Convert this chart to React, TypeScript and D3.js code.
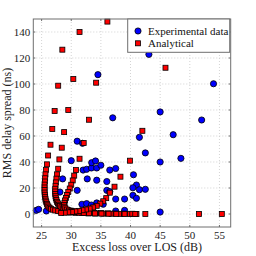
import React from 'react';
import * as d3 from 'd3';

// Experimental data: [excess loss (dB), RMS delay spread (ns)]
const experimental: [number, number][] = [
  [24.1, 2.8], [24.5, 3.6], [25.8, 2.3],
  [28.1, 16.9], [28.55, 27], [30.0, 41], [31.0, 56], [31.9, 54.4], [31.0, 18.2],
  [32.0, 33.8], [32.6, 34.4], [33.4, 35.4], [34.3, 35.4], [33.45, 39.5], [34.1, 40.8],
  [32.7, 27], [34.3, 26], [36.0, 25],
  [31.8, 7.5], [32.6, 8], [33.4, 6.9], [34.3, 8.5], [35.4, 7.5],
  [35.0, 37.5], [36.5, 33.8], [37.5, 35],
  [36.0, 18.2], [36.5, 17.2],
  [37.5, 11.5], [39.0, 11.5],
  [37.5, 2.3], [39.0, 2.8],
  [40.5, 30.2], [41.0, 22.3], [40.4, 20.2], [41.5, 18.7], [42.5, 19], [40.4, 14.4], [41.0, 12.1],
  [45, 40], [42.5, 47], [48.5, 42.8], [41.5, 59], [47.2, 61],
  [45, 78.5], [52, 72.3], [37, 74], [34.5, 107.2], [54, 100.2], [43.1, 122.8],
  [45, 1.5],
];

// Analytical model, four families of points
const analyticalA: [number, number][] = [
  [28.5, 126.4], [27.8, 98.7], [27.2, 79.2], [26.8, 65.4], [26.5, 53.3], [26.1, 45], [25.9, 38.2],
  [25.75, 34], [25.65, 30.5], [25.6, 27.5], [25.55, 25], [25.5, 22.6], [25.5, 20.4], [25.5, 18.4],
  [25.5, 16.5], [25.55, 14.8], [25.6, 13.2], [25.65, 11.7], [25.7, 10.3], [25.8, 9], [25.9, 7.8],
  [26.0, 6.7], [26.15, 5.7], [26.35, 4.8], [26.6, 4], [26.9, 3.3], [27.3, 2.7], [27.8, 2.2],
  [28.4, 1.8], [29.1, 1.4], [29.9, 1.1], [30.8, 0.9], [31.8, 0.7], [32.9, 0.5], [34.1, 0.4],
  [35.4, 0.3], [36.8, 0.2], [38.3, 0.1], [39.9, 0],
];
const analyticalB: [number, number][] = [
  [31.4, 140], [30.35, 103.8], [29.5, 80], [28.8, 63], [28.4, 51], [28.0, 42], [27.8, 34.8],
  [27.6, 30.5], [27.5, 27.2], [27.4, 24.3], [27.35, 21.7], [27.3, 19.4], [27.3, 17.3], [27.3, 15.4],
  [27.35, 13.7], [27.4, 12.1], [27.5, 10.7], [27.6, 9.4], [27.75, 8.2], [27.9, 7.1], [28.1, 6.1],
  [28.35, 5.2], [28.65, 4.4], [29.0, 3.7], [29.4, 3.1], [29.9, 2.6], [30.5, 2.1], [31.2, 1.7],
  [32.0, 1.4], [32.9, 1.1], [33.9, 0.9], [35.0, 0.7], [36.2, 0.5], [37.5, 0.4], [38.9, 0.3], [40.3, 0.2],
];
const analyticalC: [number, number][] = [
  [36.1, 148], [34.2, 101], [33, 72.5], [32.1, 54.6], [31.4, 42.5], [30.8, 33.8], [30.5, 29.5],
  [30.25, 25.8], [30.0, 22.5], [29.75, 19.6], [29.5, 17], [29.3, 14.6], [29.1, 12.4], [28.95, 10.4],
  [28.85, 8.6], [28.8, 7], [28.85, 5.6], [29.0, 4.4], [29.25, 3.4], [29.6, 2.6], [30.05, 2],
  [30.6, 1.5], [31.3, 1.1], [32.1, 0.8], [33.0, 0.6], [34.0, 0.4], [35.1, 0.3], [36.3, 0.2],
  [37.6, 0.1], [39.0, 0.1], [41.0, 0],
];
const analyticalD: [number, number][] = [
  [45.9, 112.5], [42, 64], [39.9, 41], [38.3, 28.7], [37.3, 21], [36.5, 16.4], [35.9, 12.2],
  [35.4, 9.8], [34.9, 8], [34.3, 6.3], [33.7, 5.1], [33.1, 4.2], [32.5, 3.5], [31.9, 2.9],
  [31.3, 2.4], [30.7, 2], [30.1, 1.6], [29.5, 1.3], [28.9, 1], [28.3, 0.8],
  [40.8, 0], [42.5, 0], [51.55, 0], [55.4, 0],
];

const xTicks = [25, 30, 35, 40, 45, 50, 55];
const yTicks = [0, 20, 40, 60, 80, 100, 120, 140];

const FONT = '"Liberation Serif", "Times New Roman", serif';

export default function App() {
  const left = 33.3, right = 230.7, top = 19, bottom = 227;
  const x = d3.scaleLinear().domain([23.6, 56.9]).range([left, right]);
  const y = d3.scaleLinear().domain([-10, 150]).range([bottom, top]);
  const analytical = [...analyticalA, ...analyticalB, ...analyticalC, ...analyticalD];
  const axisColor = '#6e6e6e';
  const gridColor = '#c8c8c8';

  return (
    <svg width={256} height={256} style={{ position: 'fixed', left: 0, top: 0, background: '#fff' }} fontFamily={FONT}>
      <rect x={0} y={0} width={256} height={256} fill="#fff" />
      {/* grid */}
      {xTicks.map(t => (
        <line key={'gx' + t} x1={x(t)} x2={x(t)} y1={top} y2={bottom} stroke={gridColor} strokeWidth={0.8} strokeDasharray="1,2" />
      ))}
      {yTicks.map(t => (
        <line key={'gy' + t} x1={left} x2={right} y1={y(t)} y2={y(t)} stroke={gridColor} strokeWidth={0.8} strokeDasharray="1,2" />
      ))}
      {/* ticks */}
      {xTicks.map(t => (
        <g key={'tx' + t}>
          <line x1={x(t)} x2={x(t)} y1={bottom} y2={bottom - 2} stroke={axisColor} />
          <line x1={x(t)} x2={x(t)} y1={top} y2={top + 2} stroke={axisColor} />
          <text x={x(t)} y={bottom + 11.5} textAnchor="middle" fontSize={11} fill="#222">{t}</text>
        </g>
      ))}
      {yTicks.map(t => (
        <g key={'ty' + t}>
          <line x1={left} x2={left + 2} y1={y(t)} y2={y(t)} stroke={axisColor} />
          <line x1={right} x2={right - 2} y1={y(t)} y2={y(t)} stroke={axisColor} />
          <text x={left - 3} y={y(t) + 3.8} textAnchor="end" fontSize={11} fill="#222">{t}</text>
        </g>
      ))}
      {/* data */}
      {experimental.map((d, i) => (
        <circle key={'e' + i} cx={x(d[0])} cy={y(d[1])} r={3.1} fill="#0000ff" stroke="#000" strokeWidth={0.8} />
      ))}
      {analytical.map((d, i) => (
        <rect key={'a' + i} x={x(d[0]) - 2.5} y={y(d[1]) - 2.5} width={5} height={5} fill="#ff0000" stroke="#000" strokeWidth={0.8} />
      ))}
      {/* frame */}
      <rect x={left} y={top} width={right - left} height={bottom - top} fill="none" stroke={axisColor} strokeWidth={1} />
      {/* legend */}
      <g>
        <rect x={127.7} y={top} width={102} height={33.3} fill="#fff" stroke={axisColor} strokeWidth={1} />
        <circle cx={138} cy={31} r={3.1} fill="#0000ff" stroke="#000" strokeWidth={0.8} />
        <text x={148} y={35} fontSize={11} fill="#111">Experimental data</text>
        <rect x={138 - 2.5} y={43.3 - 2.5} width={5} height={5} fill="#ff0000" stroke="#000" strokeWidth={0.8} />
        <text x={148} y={47.3} fontSize={11} fill="#111">Analytical</text>
      </g>
      {/* labels */}
      <text x={(left + right) / 2 + 5} y={251} textAnchor="middle" fontSize={12} fill="#222">Excess loss over LOS (dB)</text>
      <text transform={`translate(10.5,${(top + bottom) / 2}) rotate(-90)`} textAnchor="middle" fontSize={12} fill="#222">RMS delay spread (ns)</text>
    </svg>
  );
}
